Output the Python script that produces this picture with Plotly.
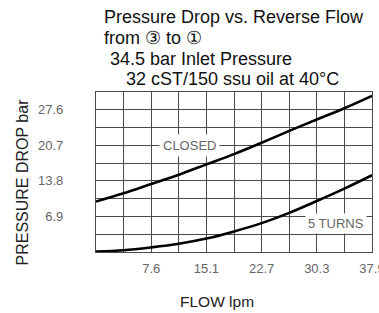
import plotly.graph_objects as go

# Data
flow_lpm = [0.0, 3.79, 7.58, 11.37, 15.16, 18.95, 22.74, 26.53, 30.32, 34.11, 37.9]
closed_bar = [9.8, 11.4, 13.2, 15.0, 17.0, 19.0, 21.2, 23.5, 25.7, 27.9, 30.3]
five_turns_bar = [0.1, 0.35, 0.9, 1.6, 2.6, 4.0, 5.6, 7.6, 9.9, 12.3, 14.9]

x_tickvals = [7.58, 15.16, 22.74, 30.32, 37.9]
x_ticktext = ["7.6", "15.1", "22.7", "30.3", "37.9"]
y_tickvals = [6.9, 13.8, 20.7, 27.6]
y_ticktext = ["6.9", "13.8", "20.7", "27.6"]

title_lines = [
    "Pressure Drop vs. Reverse Flow",
    "from \u2462 to \u2460",
    "34.5 bar Inlet Pressure",
    "32 cST/150 ssu oil at 40\u00b0C",
]

GRID = "#4a4a4a"
FONT = "Liberation Sans, Arial, sans-serif"

fig = go.Figure()
fig.add_trace(go.Scatter(x=flow_lpm, y=closed_bar, mode="lines",
                         line=dict(color="#000000", width=2.6, shape="spline"),
                         showlegend=False, hoverinfo="skip"))
fig.add_trace(go.Scatter(x=flow_lpm, y=five_turns_bar, mode="lines",
                         line=dict(color="#000000", width=2.6, shape="spline"),
                         showlegend=False, hoverinfo="skip"))

# plot area in pixels: x 96..372, y 92..252
L, R, T, B = 96, 7, 92, 61
PW, PH = 379 - L - R, 313 - T - B


def px(xp):
    return (xp - L) / PW


def py(yp):
    return (T + PH - yp) / PH


annotations = []
title_pos = [(102, 16.5), (102, 38), (108, 58.7), (124, 79)]
for txt, (xp, yp) in zip(title_lines, title_pos):
    annotations.append(dict(text=txt, xref="paper", yref="paper", x=px(xp), y=py(yp),
                            xanchor="left", yanchor="middle", showarrow=False,
                            font=dict(size=18, color="#111111", family=FONT)))

annotations.append(dict(text="PRESSURE DROP bar", xref="paper", yref="paper",
                        x=px(22), y=py(182.5), textangle=-90, showarrow=False,
                        xanchor="center", yanchor="middle",
                        font=dict(size=16, color="#222222", family=FONT)))
annotations.append(dict(text="FLOW lpm", xref="paper", yref="paper",
                        x=px(217), y=py(301), showarrow=False,
                        xanchor="center", yanchor="middle",
                        font=dict(size=15.5, color="#222222", family=FONT)))

annotations.append(dict(text="CLOSED", x=12.77, y=20.7, xref="x", yref="y",
                        showarrow=False, bgcolor="white", borderpad=3,
                        xanchor="center", yanchor="middle",
                        font=dict(size=13, color="#666666", family=FONT)))
annotations.append(dict(text="5 TURNS", x=32.96, y=5.6, xref="x", yref="y",
                        showarrow=False, bgcolor="white", borderpad=2,
                        xanchor="center", yanchor="middle",
                        font=dict(size=13, color="#666666", family=FONT)))

fig.update_layout(
    width=379, height=313,
    margin=dict(l=L, r=R, t=T, b=B, pad=0),
    paper_bgcolor="white", plot_bgcolor="white",
    annotations=annotations,
    font=dict(family=FONT),
)
fig.update_xaxes(range=[0, 37.9], tickvals=x_tickvals, ticktext=x_ticktext,
                 automargin=False, ticklabeloverflow="allow",
                 showgrid=True, gridcolor=GRID, gridwidth=1,
                 minor=dict(dtick=3.79, tick0=0, showgrid=True, gridcolor=GRID, gridwidth=1),
                 showline=True, linecolor=GRID, linewidth=1.2, mirror=True,
                 ticks="", ticklabelstandoff=4, zeroline=False,
                 tickfont=dict(size=13, color="#666666", family=FONT))
fig.update_yaxes(range=[0, 31.05], tickvals=y_tickvals, ticktext=y_ticktext,
                 automargin=False, ticklabeloverflow="allow",
                 showgrid=True, gridcolor=GRID, gridwidth=1,
                 minor=dict(dtick=3.45, tick0=0, showgrid=True, gridcolor=GRID, gridwidth=1),
                 showline=True, linecolor=GRID, linewidth=1.2, mirror=True,
                 ticks="", ticklabelstandoff=29, zeroline=False,
                 tickfont=dict(size=13, color="#666666", family=FONT))

fig.write_html("out.html", config={"displayModeBar": False},
               post_script="document.body.style.margin='0';document.body.style.overflow='hidden';")
